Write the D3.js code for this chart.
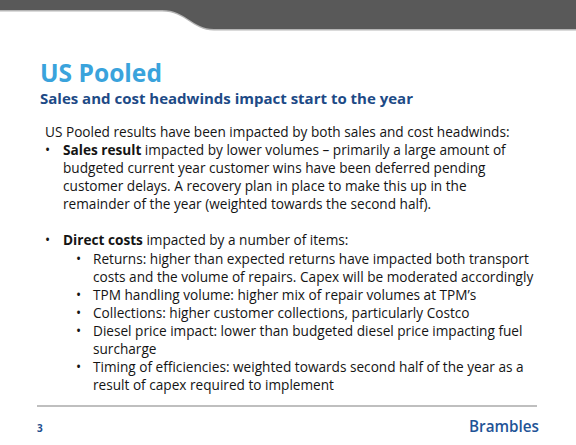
<!DOCTYPE html>
<html>
<head>
<meta charset="utf-8">
<script src="https://cdn.jsdelivr.net/npm/d3@7"></script>
<style>
  html, body { margin: 0; padding: 0; background: #fff; }
  svg { display: block; }
  text { font-family: "Open Sans", "Noto Sans", sans-serif; }
</style>
</head>
<body>
<svg id="slide" width="576" height="445"></svg>
<script>
// slide content, one entry per text row (null = empty row)
var title = "US Pooled";
var subtitle = "Sales and cost headwinds impact start to the year";
var pageNumber = "3";
var brand = "Brambles";

var rows = [
  {level: 0, bullet: false, bold: "", text: "US Pooled results have been impacted by both sales and cost headwinds:"},
  {level: 1, bullet: true,  bold: "Sales result", text: " impacted by lower volumes \u2013 primarily a large amount of"},
  {level: 1, bullet: false, bold: "", text: "budgeted current year customer wins have been deferred pending"},
  {level: 1, bullet: false, bold: "", text: "customer delays. A recovery plan in place to make this up in the"},
  {level: 1, bullet: false, bold: "", text: "remainder of the year (weighted towards the second half)."},
  null,
  {level: 1, bullet: true,  bold: "Direct costs", text: " impacted by a number of items:"},
  {level: 2, bullet: true,  bold: "", text: "Returns: higher than expected returns have impacted both transport"},
  {level: 2, bullet: false, bold: "", text: "costs and the volume of repairs. Capex will be moderated accordingly"},
  {level: 2, bullet: true,  bold: "", text: "TPM handling volume: higher mix of repair volumes at TPM\u2019s"},
  {level: 2, bullet: true,  bold: "", text: "Collections: higher customer collections, particularly Costco"},
  {level: 2, bullet: true,  bold: "", text: "Diesel price impact: lower than budgeted diesel price impacting fuel"},
  {level: 2, bullet: false, bold: "", text: "surcharge"},
  {level: 2, bullet: true,  bold: "", text: "Timing of efficiencies: weighted towards second half of the year as a"},
  {level: 2, bullet: false, bold: "", text: "result of capex required to implement"}
];

var svg = d3.select("#slide");
var W = 576, H = 445;

// row index -> baseline
var y = d3.scaleLinear().domain([0, rows.length - 1]).range([137, 390]);
// indent level -> text start, bullet position
var textX = d3.scaleOrdinal().domain([0, 1, 2]).range([45, 63, 93]);
var bulletX = d3.scaleOrdinal().domain([0, 1, 2]).range([45, 47.5, 78.5]);

//Top banner with the curved step
var bannerPath = "M0,0 H" + W + " V29 H214 C192,29 186,10 162,10 H0 Z";
svg.append("path")
   .attr("d", bannerPath)
   .attr("transform", "translate(0,1.6)")
   .attr("fill", "#b5b5b5");
svg.append("path")
   .attr("d", bannerPath)
   .attr("fill", "#595959");

//shrink a text element's font so it spans the wanted width
function fitWidth(sel, size, target) {
  sel.attr("font-size", size);
  var w = sel.node().getComputedTextLength();
  var s = size * target / w;
  sel.attr("font-size", s);
  return s;
}

var titleText = svg.append("text")
   .attr("x", 40).attr("y", 82)
   .attr("font-weight", 700)
   .attr("fill", "#3aa3dc")
   .text(title);
fitWidth(titleText, 27, 122);

var subText = svg.append("text")
   .attr("x", 40).attr("y", 103.5)
   .attr("font-weight", 700)
   .attr("fill", "#1d4a86")
   .text(subtitle);
fitWidth(subText, 16, 373);

//Body text
var probe = svg.append("text").attr("x", 0).attr("y", -50).text(rows[0].text);
var bodySize = fitWidth(probe, 14, 465);
probe.remove();

var body = svg.append("g")
   .attr("font-size", bodySize)
   .attr("fill", "#141414");

var items = rows.map(function(r, i) { return r ? Object.assign({i: i}, r) : null; })
                .filter(function(r) { return r; });

body.selectAll("text.line")
    .data(items)
    .enter()
    .append("text")
    .attr("class", "line")
    .attr("x", function(d) { return textX(d.level); })
    .attr("y", function(d) { return y(d.i); })
    .each(function(d) {
        var t = d3.select(this);
        if (d.bold) {
            t.append("tspan").attr("font-weight", 700).text(d.bold);
        }
        t.append("tspan").text(d.text);
    });

body.selectAll("text.bullet")
    .data(items.filter(function(d) { return d.bullet; }))
    .enter()
    .append("text")
    .attr("class", "bullet")
    .attr("x", function(d) { return bulletX(d.level); })
    .attr("y", function(d) { return y(d.i); })
    .attr("text-anchor", "middle")
    .text("\u2022");

//Footer
svg.append("line")
   .attr("x1", 37).attr("x2", 537)
   .attr("y1", 406).attr("y2", 406)
   .attr("stroke", "#808080")
   .attr("stroke-width", 1.2);

svg.append("text")
   .attr("x", 37).attr("y", 432)
   .attr("font-size", 10)
   .attr("font-weight", 700)
   .attr("fill", "#1f4f8f")
   .text(pageNumber);

var brandText = svg.append("text")
   .attr("x", 469).attr("y", 432)
   .attr("font-weight", 600)
   .attr("fill", "#1f5497")
   .text(brand);
fitWidth(brandText, 16, 70);
</script>
</body>
</html>
